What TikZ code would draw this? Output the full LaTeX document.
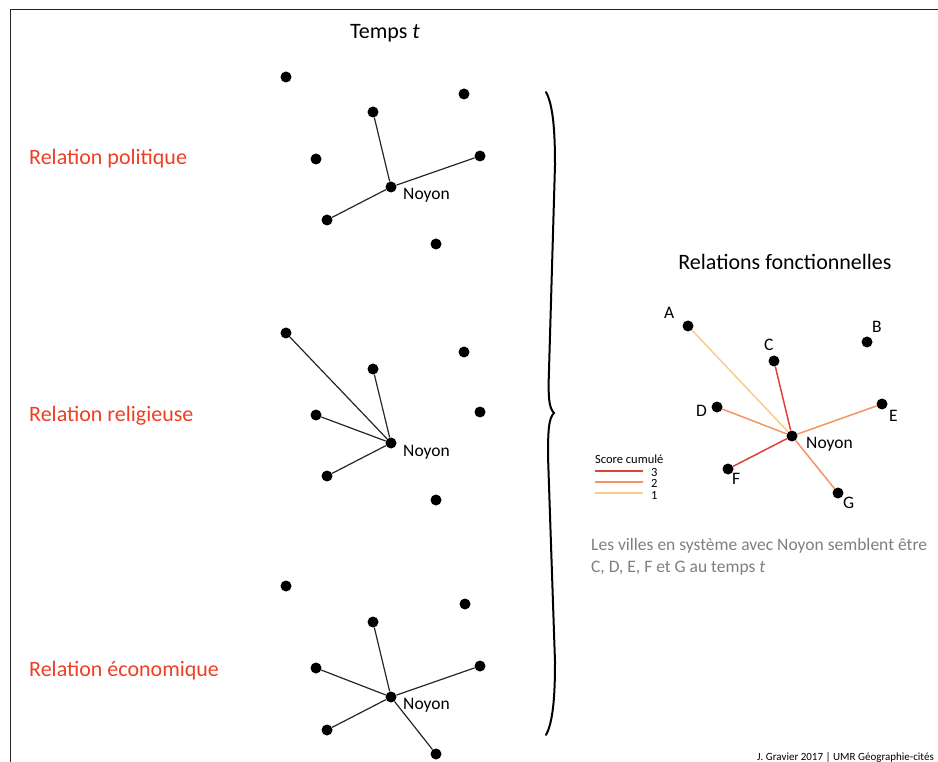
\documentclass[tikz,border=0pt]{standalone}
\usepackage{fontspec}
\setmainfont{Carlito}
\usepackage{tikz}
\usetikzlibrary{positioning, calc}
\definecolor{titlered}{RGB}{238,62,36}
\definecolor{notegray}{RGB}{127,127,127}
\definecolor{score3}{RGB}{222,66,54}
\definecolor{score2}{RGB}{244,148,98}
\definecolor{score1}{RGB}{248,204,142}
\tikzstyle{city} = [circle, fill=black, inner sep=0pt, minimum size=11pt]
\tikzstyle{cityname} = [inner sep=0pt, font=\fontsize{17.5}{20}\selectfont]
\tikzstyle{relname} = [inner sep=0pt, anchor=base west, text=titlered, font=\fontsize{22}{26}\selectfont]
\tikzstyle{heading} = [inner sep=0pt, anchor=base, font=\fontsize{22}{26}\selectfont]
\tikzstyle{link} = [line width=1.2pt, black!85]
\tikzstyle{flow} = [line width=1.5pt]

\begin{document}
\begin{tikzpicture}[x=1pt, y=-1pt]
        \useasboundingbox (0,0) rectangle (938,762);
        \draw [line width=1.6pt, black!85] (10.5,762) -- (10.5,9.5) -- (938,9.5);

        \node (temps) [heading] at (385,39) {Temps \textit{t}};
        \node (fonct) [heading] at (785,270) {Relations fonctionnelles};

        % relation politique
        \node (polname) [relname] at (29,165) {Relation politique};
        \node (pol1) [city] at (286,77) {};
        \node (pol2) [city] at (464,94) {};
        \node (pol3) [city] at (373,112) {};
        \node (pol4) [city] at (316,159) {};
        \node (pol5) [city] at (480,156) {};
        \node (pol6) [city] at (327,220) {};
        \node (pol7) [city] at (436,244) {};
        \node (polnoyon) [city] at (391,187) {};
        \node (polnoyontxt) [cityname, anchor=base west] at (403,200) {Noyon};
        \draw [link] (polnoyon) -- (pol3);
        \draw [link] (polnoyon) -- (pol5);
        \draw [link] (polnoyon) -- (pol6);

        % relation religieuse
        \node (relname) [relname] at (29,421) {Relation religieuse};
        \node (rel1) [city] at (286,333) {};
        \node (rel2) [city] at (464,352) {};
        \node (rel3) [city] at (373,369) {};
        \node (rel4) [city] at (316,415) {};
        \node (rel5) [city] at (480,412) {};
        \node (rel6) [city] at (327,476) {};
        \node (rel7) [city] at (436,500) {};
        \node (relnoyon) [city] at (391,443) {};
        \node (relnoyontxt) [cityname, anchor=base west] at (403,456) {Noyon};
        \draw [link] (relnoyon) -- (rel1);
        \draw [link] (relnoyon) -- (rel3);
        \draw [link] (relnoyon) -- (rel4);
        \draw [link] (relnoyon) -- (rel6);

        % relation economique
        \node (econame) [relname] at (29,676) {Relation économique};
        \node (eco1) [city] at (286,586) {};
        \node (eco2) [city] at (465,604) {};
        \node (eco3) [city] at (373,622) {};
        \node (eco4) [city] at (316,668) {};
        \node (eco5) [city] at (480,666) {};
        \node (eco6) [city] at (327,730) {};
        \node (eco7) [city] at (436,754) {};
        \node (econoyon) [city] at (391,697) {};
        \node (econoyontxt) [cityname, anchor=base west] at (403,709) {Noyon};
        \draw [link] (econoyon) -- (eco3);
        \draw [link] (econoyon) -- (eco4);
        \draw [link] (econoyon) -- (eco5);
        \draw [link] (econoyon) -- (eco6);
        \draw [link] (econoyon) -- (eco7);

        % accolade
        \draw [line width=2pt, line cap=round] (546,92) .. controls (553,105) and (555,130) .. (555,165)
                -- (549,370) .. controls (548,398) and (549,408) .. (554,413)
                .. controls (549,418) and (548,428) .. (548,456)
                -- (555,662) .. controls (555,697) and (553,722) .. (546,735);

        % relations fonctionnelles
        \node (fa) [city] at (688,326) {};
        \node (fb) [city] at (867,342) {};
        \node (fc) [city] at (774,361) {};
        \node (fd) [city] at (717,407) {};
        \node (fe) [city] at (882,404) {};
        \node (ff) [city] at (728,469) {};
        \node (fg) [city] at (838,493) {};
        \node (fnoyon) [city] at (792,436) {};
        \draw [flow, score1] (fnoyon) -- (fa);
        \draw [flow, score3] (fnoyon) -- (fc);
        \draw [flow, score2] (fnoyon) -- (fd);
        \draw [flow, score2] (fnoyon) -- (fe);
        \draw [flow, score3] (fnoyon) -- (ff);
        \draw [flow, score2] (fnoyon) -- (fg);
        \node (fatxt) [cityname, anchor=base west] at (664,319) {A};
        \node (fbtxt) [cityname, anchor=base west] at (872,333) {B};
        \node (fctxt) [cityname, anchor=base west] at (764,351) {C};
        \node (fdtxt) [cityname, anchor=base west] at (696,417) {D};
        \node (fetxt) [cityname, anchor=base west] at (889,421) {E};
        \node (fftxt) [cityname, anchor=base west] at (732,484) {F};
        \node (fgtxt) [cityname, anchor=base west] at (843,508) {G};
        \node (fnoyontxt) [cityname, anchor=base west] at (806,448) {Noyon};

        % legende
        \node (legtitle) [inner sep=0pt, anchor=base west, font=\fontsize{12.5}{14}\selectfont] at (595,463) {Score cumulé};
        \draw [flow, score3] (595,471) -- (643,471);
        \draw [flow, score2] (595,482) -- (643,482);
        \draw [flow, score1] (595,493) -- (643,493);
        \node (leg3) [inner sep=0pt, anchor=base west, font=\fontsize{12.5}{14}\selectfont] at (651,476) {3};
        \node (leg2) [inner sep=0pt, anchor=base west, font=\fontsize{12.5}{14}\selectfont] at (651,487) {2};
        \node (leg1) [inner sep=0pt, anchor=base west, font=\fontsize{12.5}{14}\selectfont] at (651,499) {1};

        \node (note) [inner sep=0pt, anchor=base west, text=notegray, align=left, font=\fontsize{17.5}{22}\selectfont] at (591,572)
                {Les villes en système avec Noyon semblent être\\C, D, E, F et G au temps \textit{t}};
        \node (credit) [inner sep=0pt, anchor=base east, font=\fontsize{11}{13}\selectfont] at (934,760)
                {J. Gravier 2017 | UMR Géographie-cités};
\end{tikzpicture}
\end{document}
